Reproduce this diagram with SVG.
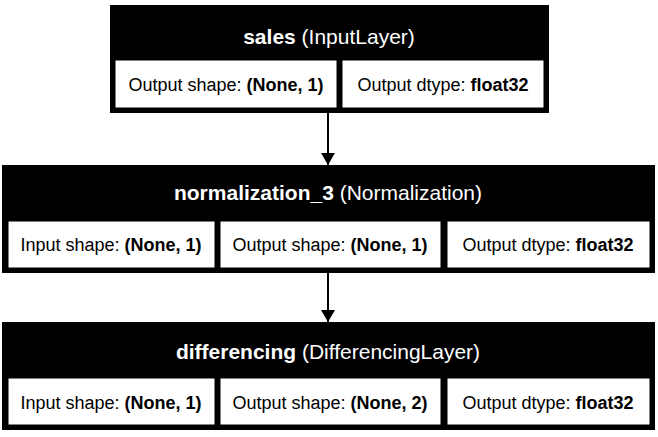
<svg xmlns="http://www.w3.org/2000/svg" width="658" height="437" viewBox="0 0 658 437">
<style>
.o{fill:#000}
.c{fill:#fff;stroke:#000;stroke-width:1}
.h{font-family:"Liberation Sans",Arial,sans-serif;font-size:21px;fill:#fff;text-anchor:middle}
.t{font-family:"Liberation Sans",Arial,sans-serif;font-size:18px;fill:#000;text-anchor:middle}
.b{font-weight:bold}
.e{stroke:#000;stroke-width:2;fill:none}
</style>
<defs><marker id="a" markerWidth="12" markerHeight="14" refX="12" refY="7" orient="auto" markerUnits="userSpaceOnUse"><path d="M0,0 L12,7 L0,14 z" fill="#000"/></marker></defs>
<g id="sales">
<rect class="o" x="110" y="5" width="439" height="108"/>
<text class="h" x="329" y="44"><tspan class="b">sales</tspan> (InputLayer)</text>
<rect class="c" x="115" y="60" width="222" height="48"/>
<text class="t" x="226" y="91">Output shape: <tspan class="b">(None, 1)</tspan></text>
<rect class="c" x="342" y="60" width="202" height="48"/>
<text class="t" x="443" y="91">Output dtype: <tspan class="b">float32</tspan></text>
</g>
<g id="normalization_3">
<rect class="o" x="2" y="165" width="653" height="108"/>
<text class="h" x="328" y="200"><tspan class="b">normalization_3</tspan> (Normalization)</text>
<rect class="c" x="8" y="221" width="207" height="47"/>
<text class="t" x="111" y="251">Input shape: <tspan class="b">(None, 1)</tspan></text>
<rect class="c" x="220" y="221" width="221" height="47"/>
<text class="t" x="330" y="251">Output shape: <tspan class="b">(None, 1)</tspan></text>
<rect class="c" x="447" y="221" width="203" height="47"/>
<text class="t" x="548" y="251">Output dtype: <tspan class="b">float32</tspan></text>
</g>
<g id="differencing">
<rect class="o" x="2" y="322" width="653" height="108"/>
<text class="h" x="328" y="359"><tspan class="b">differencing</tspan> (DifferencingLayer)</text>
<rect class="c" x="8" y="378" width="207" height="47"/>
<text class="t" x="111" y="409">Input shape: <tspan class="b">(None, 1)</tspan></text>
<rect class="c" x="220" y="378" width="221" height="47"/>
<text class="t" x="330" y="409">Output shape: <tspan class="b">(None, 2)</tspan></text>
<rect class="c" x="447" y="378" width="203" height="47"/>
<text class="t" x="548" y="409">Output dtype: <tspan class="b">float32</tspan></text>
</g>
<g id="edges">
<line class="e" x1="328" y1="113" x2="328" y2="165" marker-end="url(#a)"/>
<line class="e" x1="328" y1="273" x2="328" y2="322" marker-end="url(#a)"/>
</g>
</svg>
